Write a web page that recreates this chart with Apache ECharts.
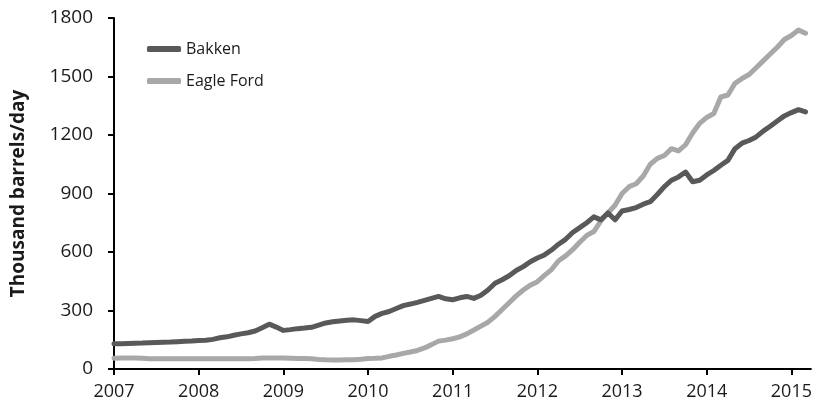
<!DOCTYPE html>
<html>
<head>
<meta charset="utf-8">
<script src="https://cdn.jsdelivr.net/npm/echarts@6/dist/echarts.min.js"></script>
<style>
  html, body { margin: 0; padding: 0; background: #fff; }
  #chart { width: 815px; height: 408px; }
</style>
</head>
<body>
<div id="chart"></div>
<script>
// monthly production, Jan 2007 .. Mar 2015 (thousand barrels/day)
const startYear = 2007;
const bakken = [
  130, 130, 131, 132, 133, 135, 136, 137, 138, 140, 142, 143, // 2007
  146, 147, 152, 160, 165, 173, 180, 186, 195, 212, 230, 215, // 2008
  198, 202, 207, 210, 214, 225, 236, 242, 246, 250, 252, 248, // 2009
  244, 270, 285, 295, 310, 325, 333, 342, 352, 362, 372, 360, // 2010
  355, 365, 372, 362, 378, 405, 440, 458, 478, 505, 525, 550, // 2011
  569, 585, 610, 640, 665, 700, 725, 750, 780, 765, 800, 765, // 2012
  810, 818, 828, 845, 858, 895, 935, 968, 985, 1010, 960, 968, // 2013
  995, 1018, 1045, 1070, 1130, 1158, 1172, 1190, 1220, 1245, 1272, 1298, // 2014
  1315, 1330, 1318 // 2015
];
const eagleFord = [
  55, 56, 56, 56, 55, 53, 52, 52, 52, 52, 52, 52, // 2007
  52, 52, 52, 53, 53, 53, 53, 53, 54, 56, 57, 57, // 2008
  56, 55, 54, 54, 52, 49, 47, 46, 46, 47, 48, 50, // 2009
  54, 55, 57, 65, 72, 80, 87, 95, 108, 125, 143, 148, // 2010
  155, 165, 180, 200, 220, 240, 270, 305, 340, 375, 405, 430, // 2011
  448, 480, 510, 555, 580, 612, 650, 685, 705, 760, 800, 840, // 2012
  900, 935, 950, 990, 1050, 1080, 1095, 1130, 1118, 1150, 1210, 1260, // 2013
  1290, 1310, 1395, 1405, 1465, 1490, 1510, 1545, 1580, 1615, 1650, 1690, // 2014
  1710, 1738, 1722 // 2015
];

const toPoints = (vals) => vals.map((v, i) => [startYear + i / 12, v]);

const textColor = "#1a1a1a";
const font = "Open Sans";

const chart = echarts.init(document.getElementById("chart"));
chart.setOption({
  animation: false,
  textStyle: { fontFamily: font },
  grid: { left: 114, right: 1, top: 18, bottom: 39 },
  legend: {
    orient: "vertical",
    left: 142,
    top: 36,
    itemGap: 16,
    itemWidth: 34,
    itemHeight: 6,
    icon: "roundRect",
    textStyle: { fontSize: 16, color: textColor, fontFamily: font },
    data: ["Bakken", "Eagle Ford"],
  },
  xAxis: {
    type: "value",
    min: 2007,
    max: 2015.23,
    interval: 1,
    axisLine: { show: true, lineStyle: { color: "#000", width: 2 } },
    axisTick: { show: true, length: 6, lineStyle: { color: "#000", width: 2 } },
    axisLabel: {
      fontSize: 18,
      color: textColor,
      margin: 14,
      showMaxLabel: false,
      formatter: (v) => (Number.isInteger(v) ? String(v) : ""),
    },
    splitLine: { show: false },
  },
  yAxis: {
    type: "value",
    min: 0,
    max: 1800,
    interval: 300,
    name: "Thousand barrels/day",
    nameLocation: "middle",
    nameGap: 86,
    nameTextStyle: { fontSize: 19, fontWeight: "bold", color: textColor },
    axisLine: { show: true, lineStyle: { color: "#000", width: 2 } },
    axisTick: { show: true, length: 6, lineStyle: { color: "#000", width: 2 } },
    axisLabel: {
      fontSize: 19,
      color: textColor,
      margin: 21,
      formatter: (v) => String(v),
    },
    splitLine: { show: false },
  },
  series: [
    {
      name: "Bakken",
      type: "line",
      data: toPoints(bakken),
      symbol: "none",
      clip: false,
      z: 3,
      itemStyle: { color: "#595959" },
      lineStyle: { color: "#595959", width: 5, cap: "round", join: "round" },
    },
    {
      name: "Eagle Ford",
      type: "line",
      data: toPoints(eagleFord),
      symbol: "none",
      clip: false,
      z: 2,
      itemStyle: { color: "#a8a8a8" },
      lineStyle: { color: "#a8a8a8", width: 5, cap: "round", join: "round" },
    },
  ],
});
</script>
</body>
</html>
